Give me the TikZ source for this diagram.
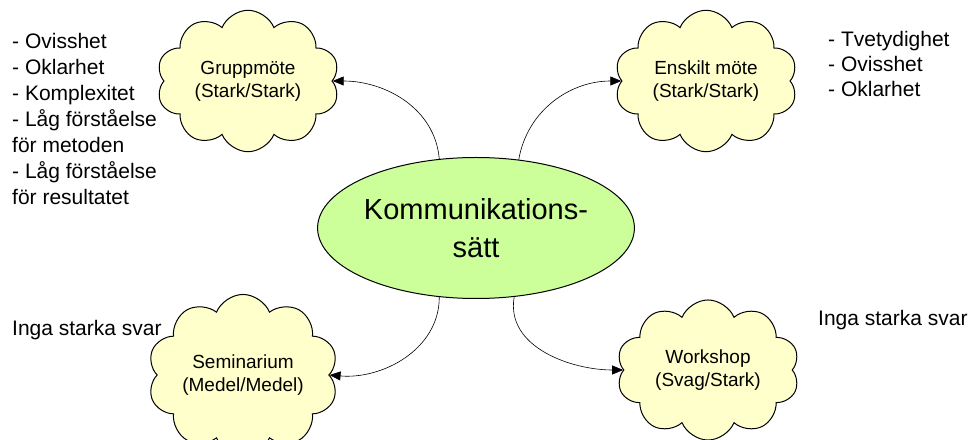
\documentclass[tikz,border=0pt]{standalone}
\usepackage{fontspec}
\setmainfont{Liberation Sans}
\usetikzlibrary{shapes,shapes.symbols,arrows.meta,positioning}
\definecolor{cloudfill}{RGB}{255,255,204}
\definecolor{hubfill}{RGB}{204,255,153}

\begin{document}
\begin{tikzpicture}[x=1pt,y=1pt,
  cloudbox/.style={cloud,cloud puffs=10,cloud puff arc=135,aspect=1.3,draw,line width=1pt,
    fill=cloudfill,minimum width=183pt,minimum height=140pt,inner sep=0pt,align=center,
    font=\fontsize{19}{23}\selectfont},
  hub/.style={ellipse,draw,line width=1pt,fill=hubfill,minimum width=284pt,minimum height=141pt,
    inner sep=0pt,align=center,font=\fontsize{29}{38}\selectfont},
  note/.style={inner sep=0pt,align=left,font=\fontsize{21}{26}\selectfont},
  link/.style={line width=0.6pt,-{Triangle[length=11pt,width=9pt]}}]

\useasboundingbox (0,0) rectangle (979,439);

\node [hub] (hub) at (476,211) {Kommunikations-\\sätt};

\node [cloudbox] (grupp) at (248,358) {Gruppmöte\\(Stark/Stark)};
\node [cloudbox] (enskilt) at (706,358) {Enskilt möte\\(Stark/Stark)};
\node [cloudbox] (semi) at (243,64) {Seminarium\\(Medel/Medel)};
\node [cloudbox] (work) at (708,69) {Workshop\\(Svag/Stark)};

\node [note,anchor=north west] (gruppnote) at (12,406)
  {- Ovisshet\\- Oklarhet\\- Komplexitet\\- Låg förståelse\\för metoden\\- Låg förståelse\\för resultatet};
\node [note,anchor=north west,font=\fontsize{21}{25}\selectfont] (enskiltnote) at (828,408)
  {- Tvetydighet\\- Ovisshet\\- Oklarhet};
\node [note,anchor=west] (seminote) at (12,109) {Inga starka svar};
\node [note,anchor=west] (worknote) at (818,119) {Inga starka svar};

\draw [link] (hub.118) to[out=95,in=0] (grupp.east);
\draw [link] (hub.58) to[out=80,in=180] (enskilt.west);
\draw [link] (hub.242) to[out=-90,in=-5] (semi.east);
\draw [link] (hub.299) to[out=-100,in=180] (work.west);

\end{tikzpicture}
\end{document}
